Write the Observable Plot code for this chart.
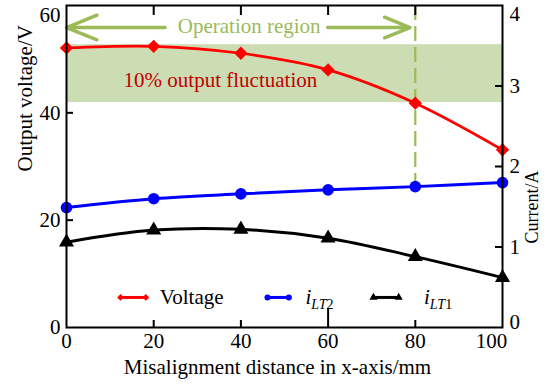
<!DOCTYPE html>
<html>
<head>
<meta charset="utf-8">
<script src="https://cdn.jsdelivr.net/npm/d3@7"></script>
<script src="https://cdn.jsdelivr.net/npm/@observablehq/plot@0.6"></script>
<style>
  html, body { margin: 0; padding: 0; background: #fff; }
</style>
</head>
<body>
<div id="chart"></div>
<script>
// Misalignment distance along x (mm)
const distance = [0, 20, 40, 60, 80, 100];
// Output voltage (V)
const voltage = [52.1, 52.4, 51.1, 48.0, 41.8, 33.1];
// Coil currents (A)
const iLT2 = [1.49, 1.60, 1.66, 1.71, 1.75, 1.80];
const iLT1 = [1.06, 1.21, 1.22, 1.11, 0.88, 0.62];

// Axis ticks
const xTicks = [0, 20, 40, 60, 80, 100];
const voltTicks = [0, 20, 40, 60];
const currentTicks = [0, 1, 2, 3, 4];

// Annotations
const fluctuationBand = [41.9, 52.7];     // V
const operationLimit = 80;               // mm
const operationLabel = "Operation region";
const fluctuationLabel = "10% output fluctuation";

// current axis (0–4 A) shares the voltage axis (0–60 V)
const voltsPerAmp = 60 / 4;

const font = "'Liberation Serif', 'Times New Roman', Times, serif";
const green = "#9bbb59";
const fs = 21;

const W = 549, H = 390;
const M = {left: 66, right: 47, top: 5, bottom: 63};
const xDomain = [0, 100], yDomain = [0, 60];
// pixels per data unit, used to size the inward tick marks
const pxPerMm = (W - M.left - M.right) / (xDomain[1] - xDomain[0]);
const pxPerV = (H - M.top - M.bottom) / (yDomain[1] - yDomain[0]);

const rows = distance.map((d, i) => ({
  d, v: voltage[i], i2: iLT2[i] * voltsPerAmp, i1: iLT1[i] * voltsPerAmp
}));

// legend layout (in plot units)
const legendY = 5.6;
const legend = [
  {key: "Voltage", x1: 12.4, x2: 18.2, tx: 21.4, color: "#ff0000", symbol: "diamond2", r: 6},
  {key: "iLT2", x1: 46.1, x2: 51.0, tx: 54.8, color: "#0000ff", symbol: "circle", r: 5.8},
  {key: "iLT1", x1: 70.4, x2: 76.2, tx: 82.0, color: "#000000", symbol: "triangle", r: 5.6}
];

const arrowY = 55.9;
const arrows = [
  {from: 22.6, to: 0},
  {from: 59.9, to: 78.8}
];

const axisStyle = {fontSize: fs, label: null};
const innerX = xTicks.filter(d => d > 0 && d < 100);
const innerV = voltTicks.filter(d => d > 0 && d < 60);
const innerA = currentTicks.filter(c => c > 0 && c < 4).map(c => c * voltsPerAmp);
const tickStyle = {stroke: "black", strokeWidth: 2};

const chart = Plot.plot({
  width: W,
  height: H,
  marginLeft: M.left,
  marginRight: M.right,
  marginTop: M.top,
  marginBottom: M.bottom,
  x: {domain: xDomain},
  y: {domain: yDomain},
  style: {fontFamily: font, fontSize: fs + "px", background: "white", color: "black"},
  marks: [
    // ±10% output band
    Plot.rect([fluctuationBand], {y1: d => d[0], y2: d => d[1], fill: "#ccdcb3"}),
    // boundary of the operation region
    Plot.ruleX([operationLimit], {
      y1: 60, y2: iLT2[distance.indexOf(operationLimit)] * voltsPerAmp,
      stroke: green, strokeWidth: 2.2, strokeDasharray: "15,6"
    }),

    // series
    Plot.line(rows, {x: "d", y: "v", stroke: "#ff0000", strokeWidth: 2.7, curve: "catmull-rom"}),
    Plot.line(rows, {x: "d", y: "i2", stroke: "#0000ff", strokeWidth: 3, curve: "catmull-rom"}),
    Plot.line(rows, {x: "d", y: "i1", stroke: "#000000", strokeWidth: 3, curve: "catmull-rom"}),
    Plot.dot(rows, {x: "d", y: "v", symbol: "diamond2", r: 6, fill: "#ff0000"}),
    Plot.dot(rows, {x: "d", y: "i2", symbol: "circle", r: 5.8, fill: "#0000ff"}),
    Plot.dot(rows, {x: "d", y: "i1", symbol: "triangle", r: 5.6, fill: "#000000"}),

    // operation region arrows and labels
    Plot.arrow(arrows, {
      x1: "from", x2: "to", y1: arrowY, y2: arrowY,
      stroke: green, strokeWidth: 3.5, headLength: 17, headAngle: 44
    }),
    Plot.text([operationLabel], {x: 41.9, y: 56.2, text: d => d, fill: green, fontSize: fs}),
    Plot.text([fluctuationLabel], {x: 35.3, y: 46.15, text: d => d, fill: "#c00000", fontSize: fs}),

    // legend
    Plot.link(legend, {x1: "x1", x2: "x2", y1: legendY, y2: legendY, stroke: "color", strokeWidth: 3}),
    Plot.dot(legend, {x: "x1", y: legendY, symbol: "symbol", r: "r", fill: "color"}),
    Plot.dot(legend, {x: "x2", y: legendY, symbol: "symbol", r: "r", fill: "color"}),
    Plot.text(legend, {x: "tx", y: legendY, text: "key", textAnchor: "start", fontSize: fs}),

    // frame
    Plot.frame({stroke: "black", strokeWidth: 2}),

    // inward ticks on all four sides
    Plot.ruleX(innerX, {x: d => d, y1: yDomain[0], y2: d => yDomain[0] + (d === 60 ? 19 : 7) / pxPerV, ...tickStyle}),
    Plot.ruleX(innerX, {x: d => d, y1: yDomain[1] - 10 / pxPerV, y2: yDomain[1], ...tickStyle}),
    Plot.ruleY(innerV, {y: d => d, x1: xDomain[0], x2: xDomain[0] + 7 / pxPerMm, ...tickStyle}),
    Plot.ruleY(innerA, {y: d => d, x1: xDomain[1] - 7 / pxPerMm, x2: xDomain[1], ...tickStyle}),

    // bottom axis labels
    Plot.axisX(xTicks.filter(d => d < 100), {...axisStyle, anchor: "bottom", tickSize: 0, tickPadding: 5.5}),
    Plot.axisX([100], {...axisStyle, anchor: "bottom", tickSize: 0, tickPadding: 5.5, dx: -11}),

    // left (voltage) axis labels
    Plot.axisY(voltTicks.filter(d => d < 60), {...axisStyle, anchor: "left", tickSize: 0, tickPadding: 6}),
    Plot.axisY([60], {...axisStyle, anchor: "left", tickSize: 0, tickPadding: 6, dy: 9.3}),

    // right (current) axis labels
    Plot.axisY(innerA, {...axisStyle, anchor: "right", tickSize: 0, tickPadding: 7, tickFormat: v => v / voltsPerAmp}),
    Plot.axisY([0], {...axisStyle, anchor: "right", tickSize: 0, tickPadding: 7, dy: -5, tickFormat: v => v / voltsPerAmp}),
    Plot.axisY([4 * voltsPerAmp], {...axisStyle, anchor: "right", tickSize: 0, tickPadding: 7, dy: 8.6, tickFormat: v => v / voltsPerAmp}),

    // axis titles
    Plot.text(["Misalignment distance in x-axis/mm"], {frameAnchor: "bottom", dy: 46, dx: -7, text: d => d, fontSize: fs}),
    Plot.text(["Output voltage/V"], {frameAnchor: "left", dx: -41, dy: 5, rotate: -90, text: d => d, fontSize: fs}),
    Plot.text(["Current/A"], {frameAnchor: "right", dx: 29.5, dy: 4, rotate: -90, text: d => d, fontSize: 18})
  ]
});

// italic current symbols with subscripts in the legend
d3.select(chart).selectAll("text").each(function () {
  const m = this.textContent.match(/^i(LT)(\d)$/);
  if (!m) return;
  const t = d3.select(this).text(null);
  t.append("tspan").attr("font-style", "italic").text("i");
  t.append("tspan").attr("font-style", "italic").attr("font-size", 14).attr("dy", 5).text(m[1]);
  t.append("tspan").attr("font-size", 14).text(m[2]);
});

document.getElementById("chart").appendChild(chart);
</script>
</body>
</html>
